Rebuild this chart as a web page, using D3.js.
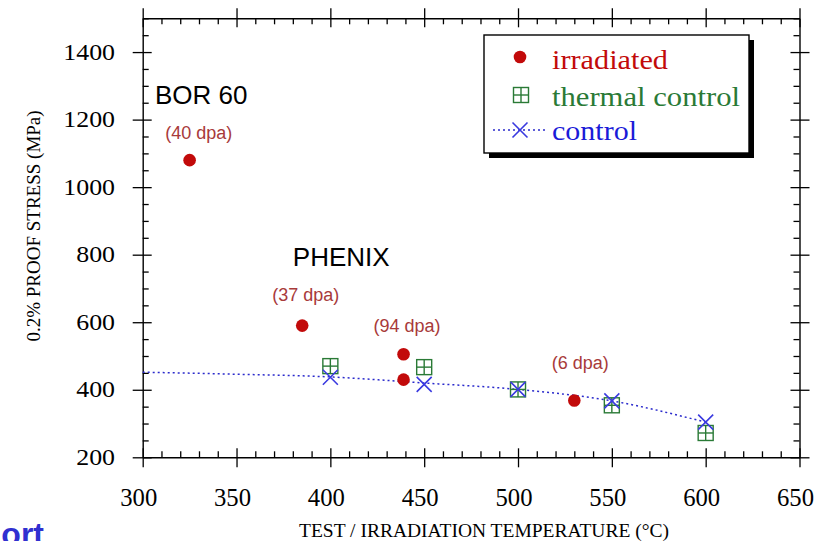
<!DOCTYPE html>
<html>
<head>
<meta charset="utf-8">
<script src="https://cdn.jsdelivr.net/npm/d3@7/dist/d3.min.js"></script>
<style>
  html, body { margin: 0; padding: 0; background: #fff; overflow: hidden; }
  svg { display: block; }
</style>
</head>
<body>
<svg id="chart" width="837" height="541"></svg>
<script>
// Irradiated specimens (°C, MPa)
const irradiatedTemp   = [325, 385, 439, 439, 530];
const irradiatedStress = [1080, 590, 505, 430, 368];

// Thermal control specimens
const thermalTemp   = [400, 450, 500, 550, 600];
const thermalStress = [470, 467, 401, 354, 272];

// Unirradiated control specimens
const controlTemp   = [400, 450, 500, 550, 600];
const controlStress = [437, 416, 401, 367, 304];

// Trend curve through the control data
const trendTemp   = [300, 350, 400, 450, 500, 550, 600];
const trendStress = [452, 446, 438, 420, 401, 367, 304];

// Dose annotations (anchored at their left edge / baseline)
const doseLabels = ["(40 dpa)", "(37 dpa)", "(94 dpa)", "(6 dpa)"];
const doseTemp   = [312, 369, 423, 518];
const doseStress = [1143, 663, 571, 461];

// Reactor annotations
const reactorLabels = ["BOR 60", "PHENIX"];
const reactorTemp   = [306.5, 380];
const reactorStress = [1246, 766];

const xTicks = [300, 350, 400, 450, 500, 550, 600, 650];
const yTicks = [200, 400, 600, 800, 1000, 1200, 1400];

const RED = "#c20a0a", GREEN = "#2a7a36", BLUE = "#1a1ad8", DOSE = "#a83a3a";
const SERIF = "'Liberation Serif', 'Times New Roman', serif";
const SANS = "'Liberation Sans', Arial, sans-serif";

const svg = d3.select("#chart");
const L = 142.7, R = 799.5, T = 18.3, B = 457.3;
const x = d3.scaleLinear().domain([300, 650]).range([L, R]);
const y = d3.scaleLinear().domain([200, 1500]).range([B, T]);

const minorX = d3.range(300, 651, 10).filter(v => v % 50 !== 0);
const minorY = d3.range(200, 1501, 50).filter(v => v % 200 !== 0);

// Frame axes: major ticks cross the line, minor ticks point inward
function frameAxis(axisFn, scale, pos, majors, minors, inward) {
  const g = svg.append("g").attr("transform", pos);
  g.call(axisFn(scale).tickValues(majors).tickSizeOuter(0).tickFormat(""));
  g.selectAll(".tick line").attr(inward.axis + "1", -inward.sign * 9).attr(inward.axis + "2", inward.sign * 10);
  const m = svg.append("g").attr("transform", pos);
  m.call(axisFn(scale).tickValues(minors).tickSizeOuter(0).tickSizeInner(-6).tickFormat(""));
  m.select(".domain").remove();
  [g, m].forEach(s => {
    s.selectAll("line").attr("stroke", "#000").attr("stroke-width", 1.3);
    s.select(".domain").attr("stroke", "#000").attr("stroke-width", 1.4);
  });
  return g;
}
frameAxis(d3.axisBottom, x, `translate(0,${B})`, xTicks, minorX, {axis: "y", sign: 1});
frameAxis(d3.axisTop, x, `translate(0,${T})`, xTicks, minorX, {axis: "y", sign: -1});
frameAxis(d3.axisLeft, y, `translate(${L},0)`, yTicks, minorY, {axis: "x", sign: -1});
frameAxis(d3.axisRight, y, `translate(${R},0)`, yTicks, minorY, {axis: "x", sign: 1});

// Tick labels
svg.append("g").selectAll("text").data(xTicks).join("text")
  .attr("transform", d => `translate(${x(d) - 4},506) scale(0.95,1)`)
  .attr("text-anchor", "middle")
  .attr("font-family", SERIF).attr("font-size", 26)
  .text(d => d);
svg.append("g").selectAll("text").data(yTicks).join("text")
  .attr("transform", d => `translate(115,${y(d) + 7.5}) scale(1.15,1)`)
  .attr("text-anchor", "end")
  .attr("font-family", SERIF).attr("font-size", 22.5)
  .text(d => d);

// Axis titles
svg.append("text")
  .attr("x", 299).attr("y", 537)
  .attr("font-family", SERIF).attr("font-size", 19.5)
  .text("TEST / IRRADIATION TEMPERATURE (°C)");
svg.append("text")
  .attr("transform", "translate(40,226) rotate(-90)")
  .attr("text-anchor", "middle")
  .attr("font-family", SERIF).attr("font-size", 19)
  .text("0.2% PROOF STRESS (MPa)");

// Control trend curve
const trend = d3.line().x((d, i) => x(trendTemp[i])).y((d, i) => y(trendStress[i])).curve(d3.curveMonotoneX);
svg.append("path").datum(trendTemp).attr("d", trend)
  .attr("fill", "none").attr("stroke", "#2a2acc").attr("stroke-width", 1.5)
  .attr("stroke-dasharray", "2,3");

// Marker shapes
function squareMark(g, cx, cy, s) {
  const h = s / 2;
  g.append("rect").attr("x", cx - h).attr("y", cy - h).attr("width", s).attr("height", s)
    .attr("fill", "none").attr("stroke", GREEN).attr("stroke-width", 1.4);
  g.append("line").attr("x1", cx).attr("x2", cx).attr("y1", cy - h).attr("y2", cy + h).attr("stroke", GREEN).attr("stroke-width", 1.4);
  g.append("line").attr("x1", cx - h).attr("x2", cx + h).attr("y1", cy).attr("y2", cy).attr("stroke", GREEN).attr("stroke-width", 1.4);
}
function crossMark(g, cx, cy, s) {
  const h = s / 2;
  g.append("path").attr("d", `M${cx - h},${cy - h}L${cx + h},${cy + h}M${cx - h},${cy + h}L${cx + h},${cy - h}`)
    .attr("stroke", "#3a3ae0").attr("stroke-width", 1.6).attr("fill", "none");
}

const marks = svg.append("g");
thermalTemp.forEach((t, i) => squareMark(marks, x(t), y(thermalStress[i]), 15));
controlTemp.forEach((t, i) => crossMark(marks, x(t), y(controlStress[i]), 15));
marks.selectAll("circle").data(irradiatedTemp).join("circle")
  .attr("cx", d => x(d)).attr("cy", (d, i) => y(irradiatedStress[i])).attr("r", 6.3)
  .attr("fill", RED);

// Annotations
svg.append("g").selectAll("text").data(reactorLabels).join("text")
  .attr("x", (d, i) => x(reactorTemp[i])).attr("y", (d, i) => y(reactorStress[i]))
  .attr("font-family", SANS).attr("font-size", 26).attr("fill", "#000")
  .text(d => d);
svg.append("g").selectAll("text").data(doseLabels).join("text")
  .attr("x", (d, i) => x(doseTemp[i])).attr("y", (d, i) => y(doseStress[i]))
  .attr("font-family", SANS).attr("font-size", 18).attr("fill", DOSE)
  .text(d => d);

// Legend with drop shadow
const lg = svg.append("g");
lg.append("rect").attr("x", 489).attr("y", 40).attr("width", 265).attr("height", 118).attr("fill", "#000");
lg.append("rect").attr("x", 484).attr("y", 35).attr("width", 265).attr("height", 118)
  .attr("fill", "#fff").attr("stroke", "#000").attr("stroke-width", 1.4);
lg.append("circle").attr("cx", 520).attr("cy", 57).attr("r", 6.3).attr("fill", RED);
squareMark(lg, 521, 95, 15);
lg.append("line").attr("x1", 493).attr("x2", 547).attr("y1", 130).attr("y2", 130)
  .attr("stroke", "#2a2acc").attr("stroke-width", 1.5).attr("stroke-dasharray", "2,3");
crossMark(lg, 520, 130, 15);
const legendItems = [
  {label: "irradiated", color: RED, y: 69, w: 116},
  {label: "thermal control", color: GREEN, y: 106, w: 188},
  {label: "control", color: BLUE, y: 140, w: 85}
];
lg.selectAll("text.lab").data(legendItems).join("text")
  .attr("class", "lab")
  .attr("x", 552).attr("y", d => d.y)
  .attr("font-family", SERIF).attr("font-size", 27)
  .attr("textLength", d => d.w).attr("lengthAdjust", "spacingAndGlyphs")
  .attr("fill", d => d.color)
  .text(d => d.label);

// Fragment of the page heading below the chart
svg.append("text")
  .attr("x", 44).attr("y", 545)
  .attr("text-anchor", "end")
  .attr("font-family", SANS).attr("font-weight", "bold").attr("font-size", 32)
  .attr("fill", "#3030d0")
  .text("ort");
</script>
</body>
</html>
